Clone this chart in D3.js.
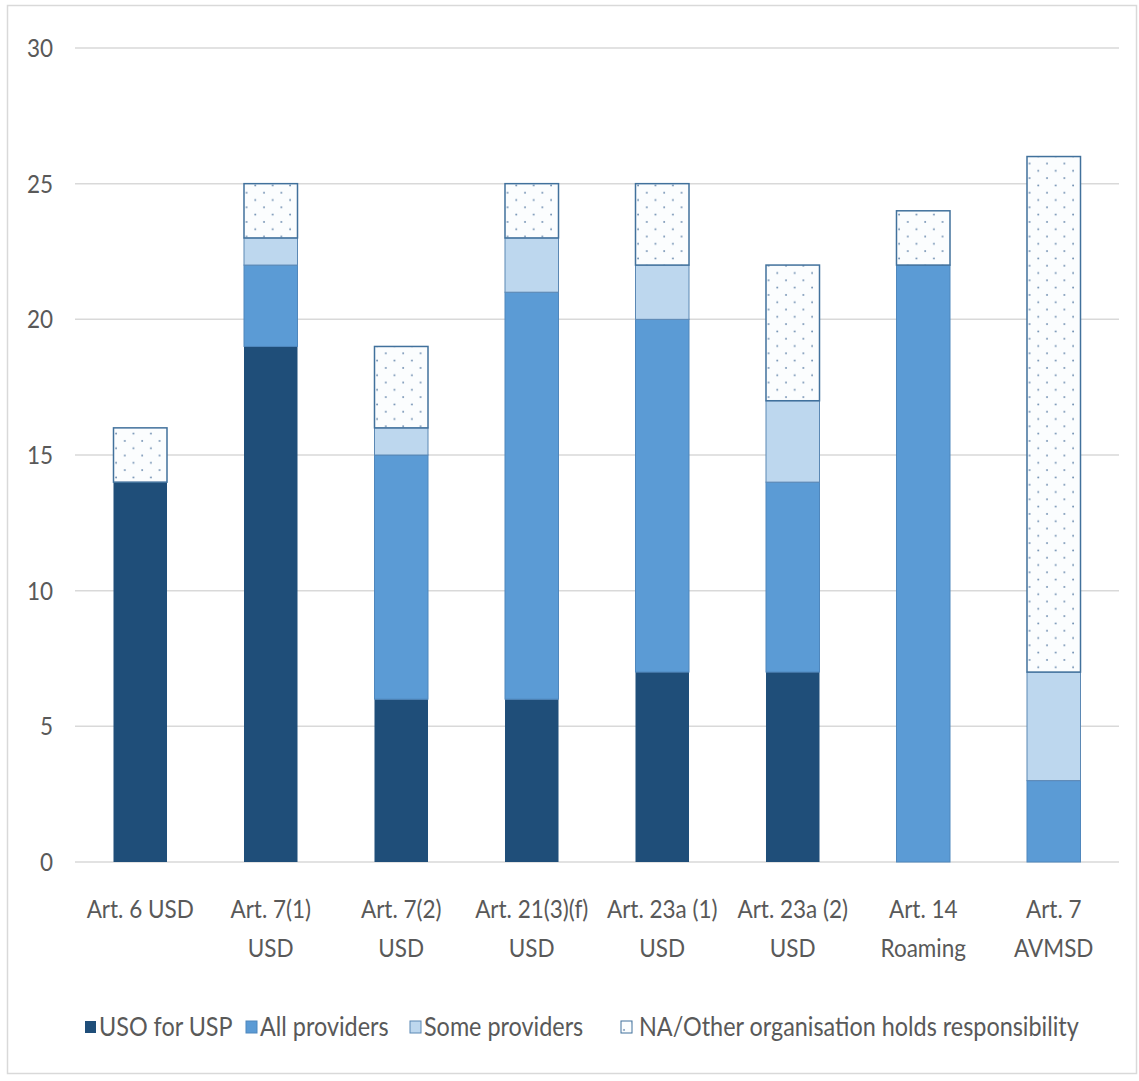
<!DOCTYPE html>
<html>
<head>
<meta charset="utf-8">
<script src="https://cdn.jsdelivr.net/npm/d3@7"></script>
<style>
  html, body { margin: 0; padding: 0; background: #fff; }
  svg { display: block; }
  text { font-family: Lato, "Open Sans", sans-serif; fill: #595959; }
</style>
</head>
<body>
<svg id="chart" width="1139" height="1081"></svg>
<script>
// Provisions assessed
const categories = [
  "Art. 6 USD", "Art. 7(1) USD", "Art. 7(2) USD", "Art. 21(3)(f) USD",
  "Art. 23a (1) USD", "Art. 23a (2) USD", "Art. 14 Roaming", "Art. 7 AVMSD"
];
// Axis label lines for each provision
const categoryLines = [
  ["Art. 6 USD"], ["Art. 7(1)", "USD"], ["Art. 7(2)", "USD"], ["Art. 21(3)(f)", "USD"],
  ["Art. 23a (1)", "USD"], ["Art. 23a (2)", "USD"], ["Art. 14", "Roaming"], ["Art. 7", "AVMSD"]
];
// Number of countries per responsibility type
const usoForUsp     = [14, 19, 6, 6, 7, 7, 0, 0];
const allProviders  = [0, 3, 9, 15, 13, 7, 22, 3];
const someProviders = [0, 1, 1, 2, 2, 3, 0, 4];
const naOther       = [2, 2, 3, 2, 3, 5, 2, 19];

const seriesNames = ["USO for USP", "All providers", "Some providers", "NA/Other organisation holds responsibility"];
const yTicks = [0, 5, 10, 15, 20, 25, 30];

const svg = d3.select("#chart");

// Outer frame
svg.append("rect")
  .attr("x", 7.5).attr("y", 5.5)
  .attr("width", 1129).attr("height", 1068)
  .attr("fill", "#fff").attr("stroke", "#d9d9d9").attr("stroke-width", 1.5);

// Dotted fill for the NA series
const defs = svg.append("defs");
const pat = defs.append("pattern")
  .attr("id", "dots").attr("patternUnits", "userSpaceOnUse")
  .attr("width", 17.4).attr("height", 14.6);
pat.append("rect").attr("width", 17.4).attr("height", 14.6).attr("fill", "#fbfdfe");
pat.append("circle").attr("cx", 3).attr("cy", 3).attr("r", 0.95).attr("fill", "#6d8db0");
pat.append("circle").attr("cx", 11.7).attr("cy", 10.3).attr("r", 0.95).attr("fill", "#6d8db0");

const fills = ["#1f4e79", "#5b9bd5", "#bdd7ee", "url(#dots)"];
const strokes = ["none", "#4f87bd", "#5b88b4", "#41719c"];

const x = d3.scaleBand()
  .domain(categories)
  .range([75, 1119])
  .paddingInner(0.59)
  .paddingOuter(0.295);

const y = d3.scaleLinear().domain([0, 30]).range([862, 48]);

// Gridlines
svg.append("g")
  .selectAll("line")
  .data(yTicks)
  .join("line")
  .attr("x1", 75).attr("x2", 1119)
  .attr("y1", d => y(d)).attr("y2", d => y(d))
  .attr("stroke", "#d9d9d9").attr("stroke-width", 1.5);

// Stacked data
const rows = categories.map((c, i) => ({
  cat: c,
  s0: usoForUsp[i], s1: allProviders[i], s2: someProviders[i], s3: naOther[i]
}));
const stack = d3.stack().keys(["s0", "s1", "s2", "s3"])(rows);

const gBars = svg.append("g");
stack.forEach((layer, k) => {
  gBars.append("g")
    .selectAll("rect")
    .data(layer.filter(d => d[1] - d[0] > 0))
    .join("rect")
    .attr("x", d => x(d.data.cat))
    .attr("width", x.bandwidth())
    .attr("y", d => y(d[1]))
    .attr("height", d => y(d[0]) - y(d[1]))
    .attr("fill", fills[k])
    .attr("stroke", strokes[k])
    .attr("stroke-width", k === 3 ? 1.5 : 1);
});

// Y axis labels
const sx = 0.9;
svg.append("g")
  .selectAll("text")
  .data(yTicks)
  .join("text")
  .attr("transform", d => `translate(53,${y(d)}) scale(${sx},1)`)
  .attr("text-anchor", "end")
  .attr("dy", "0.36em")
  .attr("font-size", 25)
  .text(d => d);

// X axis labels
const xl = svg.append("g")
  .selectAll("g")
  .data(categories)
  .join("g")
  .attr("transform", d => `translate(${x(d) + x.bandwidth() / 2},0) scale(${sx},1)`);
xl.selectAll("text")
  .data((d, i) => categoryLines[i])
  .join("text")
  .attr("text-anchor", "middle")
  .attr("x", 0)
  .attr("y", (d, j) => 918 + j * 39)
  .attr("font-size", 25)
  .text(d => d);

// Legend
const legendX = [85, 246, 410, 621];
const leg = svg.append("g")
  .selectAll("g")
  .data(seriesNames)
  .join("g")
  .attr("transform", (d, i) => `translate(${legendX[i]},1027)`);
leg.append("rect")
  .attr("x", 0).attr("y", -6)
  .attr("width", 11).attr("height", 12)
  .attr("fill", (d, i) => fills[i])
  .attr("stroke", (d, i) => i === 0 ? "none" : strokes[i])
  .attr("stroke-width", 1);
leg.append("text")
  .attr("transform", (d, i) => `translate(${i === 3 ? 18 : 14},0) scale(${sx},1)`)
  .attr("dy", "0.36em")
  .attr("font-size", 26)
  .text(d => d);
</script>
</body>
</html>
